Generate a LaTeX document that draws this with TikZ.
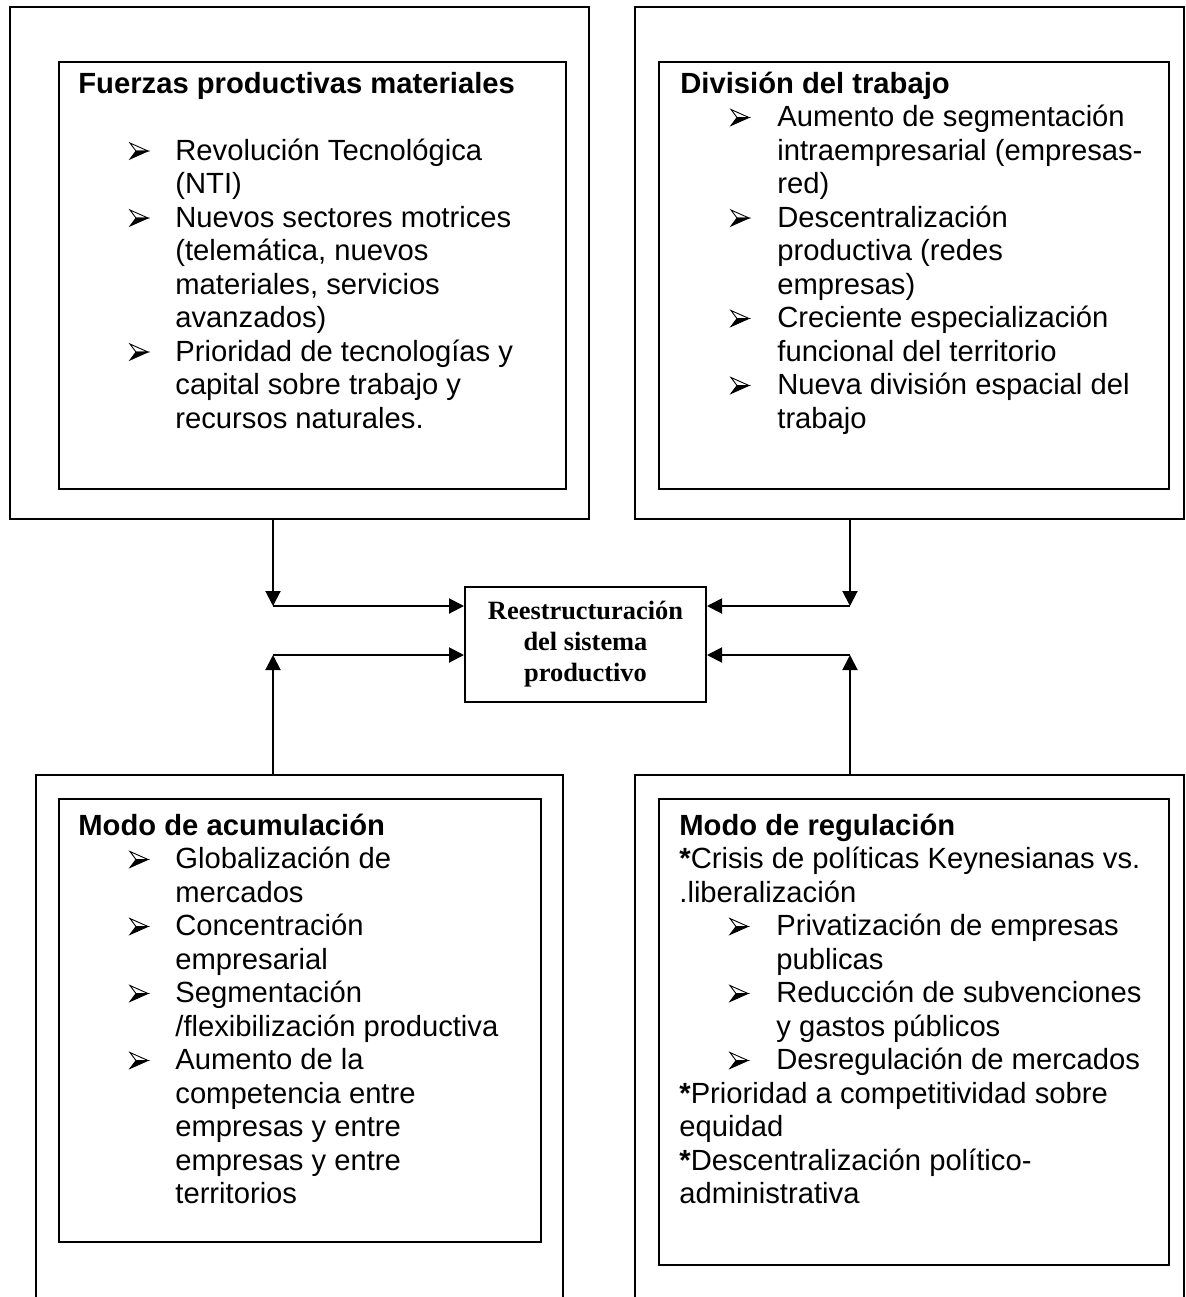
\documentclass[tikz,border=0pt]{standalone}
\usepackage{fontspec}
\setmainfont{Liberation Sans}
\newfontfamily\tnrfont{Liberation Serif}
\usetikzlibrary{arrows.meta}
\newcommand\Lt[1]{\hbox{#1}}
\newcommand\Lb[1]{\hbox{\hspace*{48.5pt}#1}}
\newcommand\Lc[1]{\hbox{\hspace*{48.5pt}#1}}
\newcommand\Blk[1]{\vtop{\fontsize{14.6}{16.75}\selectfont\baselineskip=16.75pt\relax #1}}
\begin{document}
\begin{tikzpicture}[x=0.5pt,y=-0.5pt,
  bx/.style={draw, line width=1pt, inner sep=0pt, anchor=north west},
  txt/.style={anchor=base west, inner sep=0pt},
  conn/.style={line width=1pt, -{Triangle[length=7.5pt,width=7.5pt]}},
  arrowbul/.pic={
    \fill (0,-1) -- (18,-9) -- (6,-9) -- cycle;
    \draw[line width=0.45pt, line join=miter] (0,-17) -- (18,-9) -- (6,-9) -- cycle;
    \draw[line width=0.45pt, line join=miter] (0,-1) -- (18,-9) -- (6,-9) -- cycle;
  }]
\useasboundingbox (0,0) rectangle (1186,1297);
% outer and inner frames
\node[bx, minimum width=289.5pt, minimum height=256pt] (tlo) at (9,6) {};
\node[bx, minimum width=253.5pt, minimum height=213.5pt] (tli) at (58,61) {};
\node[bx, minimum width=274.5pt, minimum height=256pt] (tro) at (634,6) {};
\node[bx, minimum width=255pt, minimum height=213.5pt] (tri) at (658,61) {};
\node[bx, minimum width=263.5pt, minimum height=273pt] (blo) at (35,774) {};
\node[bx, minimum width=241pt, minimum height=221.5pt] (bli) at (58,798) {};
\node[bx, minimum width=274.5pt, minimum height=273pt] (bro) at (634,774) {};
\node[bx, minimum width=255pt, minimum height=233pt] (bri) at (658,798) {};
% centre
\node[draw, line width=1pt, minimum width=120.5pt, minimum height=57.5pt, inner sep=0pt,
  align=center, font={\tnrfont\bfseries\fontsize{13.2}{15.5}\selectfont}] (c) at (585.5,644.5)
  {Reestructuración\\del sistema\\productivo};
% texts
\node[txt] (tlt) at (78,93) {\Blk{%
  \Lt{\textbf{Fuerzas productivas materiales}}
  \Lt{}
  \Lb{Revolución Tecnológica}
  \Lc{(NTI)}
  \Lb{Nuevos sectores motrices}
  \Lc{(telemática, nuevos}
  \Lc{materiales, servicios}
  \Lc{avanzados)}
  \Lb{Prioridad de tecnologías y}
  \Lc{capital sobre trabajo y}
  \Lc{recursos naturales.}}};
\node[txt] (trt) at (680,93) {\Blk{%
  \Lt{\textbf{División del trabajo}}
  \Lb{Aumento de segmentación}
  \Lc{intraempresarial (empresas-}
  \Lc{red)}
  \Lb{Descentralización}
  \Lc{productiva (redes}
  \Lc{empresas)}
  \Lb{Creciente especialización}
  \Lc{funcional del territorio}
  \Lb{Nueva división espacial del}
  \Lc{trabajo}}};
\node[txt] (blt) at (78,835) {\Blk{%
  \Lt{\textbf{Modo de acumulación}}
  \Lb{Globalización de}
  \Lc{mercados}
  \Lb{Concentración}
  \Lc{empresarial}
  \Lb{Segmentación}
  \Lc{/flexibilización productiva}
  \Lb{Aumento de la}
  \Lc{competencia entre}
  \Lc{empresas y entre}
  \Lc{empresas y entre}
  \Lc{territorios}}};
\node[txt] (brt) at (679,835) {\Blk{%
  \Lt{\textbf{Modo de regulación}}
  \Lt{\textbf{*}Crisis de políticas Keynesianas vs.}
  \Lt{.liberalización}
  \Lb{Privatización de empresas}
  \Lc{publicas}
  \Lb{Reducción de subvenciones}
  \Lc{y gastos públicos}
  \Lb{Desregulación de mercados}
  \Lt{\textbf{*}Prioridad a competitividad sobre}
  \Lt{equidad}
  \Lt{\textbf{*}Descentralización político-}
  \Lt{administrativa}}};
% bullets
\foreach \by in {160,227,361} \pic at (130,\by) {arrowbul};
\foreach \by in {126.5,227,327.5,394.5} \pic at (731,\by) {arrowbul};
\foreach \by in {868.5,935.5,1002.5,1069.5} \pic at (130,\by) {arrowbul};
\foreach \by in {935.5,1002.5,1069.5} \pic at (730,\by) {arrowbul};
% connectors
\coordinate (p1) at (273,606);
\coordinate (p2) at (273,655);
\coordinate (p3) at (850,606);
\coordinate (p4) at (850,655);
\draw[conn] (tlo.south -| p1) -- (p1);
\draw[conn] (p1) -- (c.west |- p1);
\draw[conn] (blo.north -| p2) -- (p2);
\draw[conn] (p2) -- (c.west |- p2);
\draw[conn] (tro.south -| p3) -- (p3);
\draw[conn] (p3) -- (c.east |- p3);
\draw[conn] (bro.north -| p4) -- (p4);
\draw[conn] (p4) -- (c.east |- p4);
\end{tikzpicture}
\end{document}
